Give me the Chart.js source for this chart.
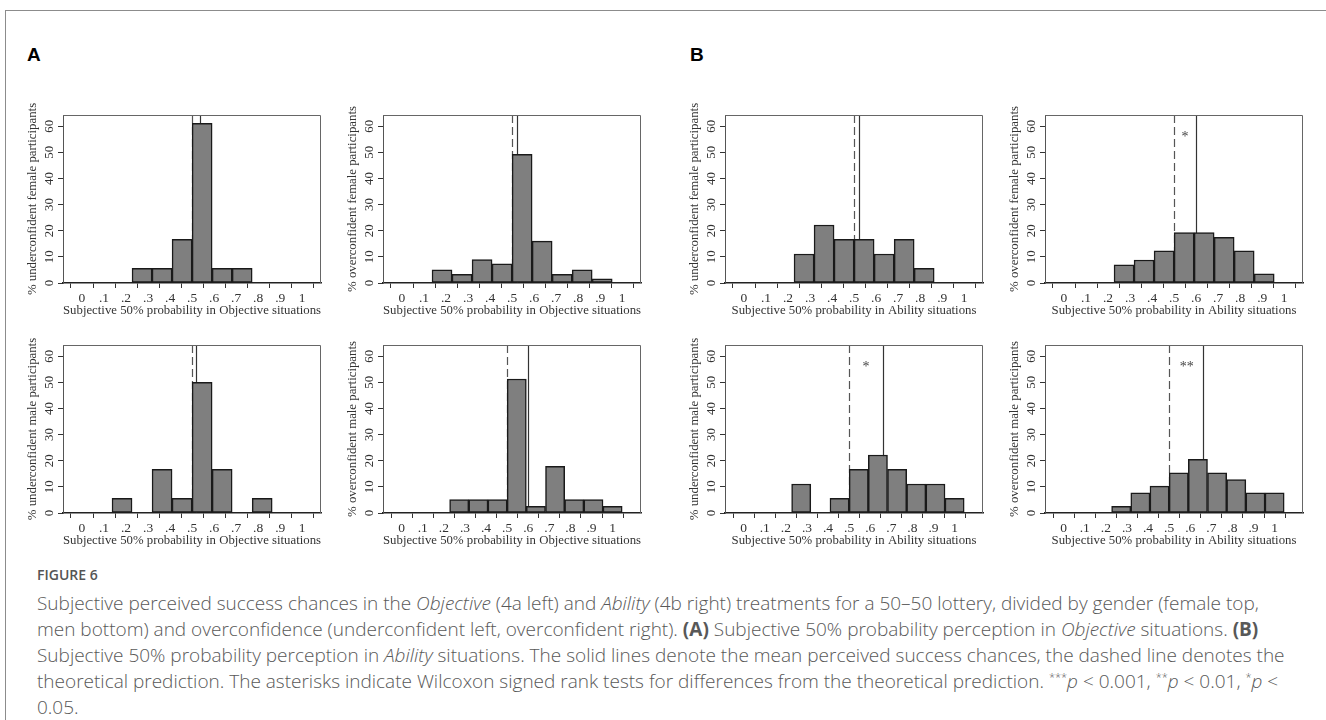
<!DOCTYPE html>
<html>
<head>
<meta charset="utf-8">
<script src="https://cdn.jsdelivr.net/npm/chart.js@4.4.1/dist/chart.umd.min.js"></script>
<style>
  body { margin: 0; background: #fff; width: 1326px; height: 720px; overflow: hidden; position: relative; }
  .frame { position: absolute; left: 5px; top: 10px; width: 1400px; height: 800px; border-left: 1px solid #8c8c8c; border-top: 1px solid #8c8c8c; }
  .tag { position: absolute; font: bold 19px "Liberation Sans", Arial, sans-serif; color: #000; }
  canvas { position: absolute; }
  .caption { position: absolute; left: 37px; top: 564px; font-family: "Open Sans", sans-serif; color: #585858; white-space: nowrap; }
  .caption .fig { font-size: 14px; font-weight: 600; color: #555; line-height: 22px; }
  .caption .txt { font-size: 19px; font-weight: 300; line-height: 26px; margin-top: 4px; }
  .caption .txt b { font-weight: 700; }
  .caption sup { font-size: 11px; vertical-align: 7px; line-height: 0; }
</style>
</head>
<body>
<div class="frame"></div>
<div class="tag" style="left:27px; top:44px;">A</div>
<div class="tag" style="left:690px; top:44px;">B</div>

<canvas id="c1" width="320" height="240" style="left:13px; top:90px;"></canvas>
<canvas id="c2" width="320" height="240" style="left:333px; top:90px;"></canvas>
<canvas id="c3" width="320" height="240" style="left:675px; top:90px;"></canvas>
<canvas id="c4" width="320" height="240" style="left:995px; top:90px;"></canvas>
<canvas id="c5" width="320" height="240" style="left:13px; top:320px;"></canvas>
<canvas id="c6" width="320" height="240" style="left:333px; top:320px;"></canvas>
<canvas id="c7" width="320" height="240" style="left:675px; top:320px;"></canvas>
<canvas id="c8" width="320" height="240" style="left:995px; top:320px;"></canvas>

<div class="caption">
  <div class="fig">FIGURE 6</div>
  <div class="txt">
    Subjective perceived success chances in the <i>Objective</i> (4a left) and <i>Ability</i> (4b right) treatments for a 50–50 lottery, divided by gender (female top,<br>
    men bottom) and overconfidence (underconfident left, overconfident right). <b>(A)</b> Subjective 50% probability perception in <i>Objective</i> situations. <b>(B)</b><br>
    Subjective 50% probability perception in <i>Ability</i> situations. The solid lines denote the mean perceived success chances, the dashed line denotes the<br>
    theoretical prediction. The asterisks indicate Wilcoxon signed rank tests for differences from the theoretical prediction. <sup>***</sup><i>p</i> &lt; 0.001, <sup>**</sup><i>p</i> &lt; 0.01, <sup>*</sup><i>p</i> &lt;<br>
    0.05.
  </div>
</div>

<script>
// histogram bin centres (bin width 1/11)
const BIN_CENTERS = [0.0909, 0.1818, 0.2727, 0.3636, 0.4545, 0.5455, 0.6364, 0.7273, 0.8182, 0.9091, 1.0];
const X_TICKS = [0, 0.1, 0.2, 0.3, 0.4, 0.5, 0.6, 0.7, 0.8, 0.9, 1];
const X_TICK_LABELS = ['0', '.1', '.2', '.3', '.4', '.5', '.6', '.7', '.8', '.9', '1'];
const Y_TICKS = [0, 10, 20, 30, 40, 50, 60];

// % of participants per bin
const OBJ_UNDER_FEMALE = [0, 0, 5.6, 5.6, 16.7, 61.1, 5.6, 5.6, 0, 0, 0];
const OBJ_OVER_FEMALE  = [0, 5.0, 3.3, 9.0, 7.3, 49.2, 16.0, 3.3, 5.0, 1.6, 0];
const ABL_UNDER_FEMALE = [0, 0, 11.1, 22.2, 16.7, 16.7, 11.1, 16.7, 5.6, 0, 0];
const ABL_OVER_FEMALE  = [0, 0, 7.0, 8.8, 12.3, 19.3, 19.3, 17.5, 12.3, 3.5, 0];
const OBJ_UNDER_MALE   = [0, 5.6, 0, 16.7, 5.6, 50.0, 16.7, 0, 5.6, 0, 0];
const OBJ_OVER_MALE    = [0, 0, 5.1, 5.1, 5.1, 51.3, 2.6, 17.9, 5.1, 5.1, 2.6];
const ABL_UNDER_MALE   = [0, 0, 11.1, 0, 5.6, 16.7, 22.2, 16.7, 11.1, 11.1, 5.6];
const ABL_OVER_MALE    = [0, 0, 2.6, 7.7, 10.3, 15.4, 20.5, 15.4, 12.8, 7.7, 7.7];

// mean (solid) and theoretical prediction (dashed)
const MEANS = [0.536, 0.52, 0.52, 0.60, 0.518, 0.60, 0.66, 0.66];
const THEORY = 0.5;
const STARS = ['', '', '', '*', '', '', '*', '**'];
const STAR_X = [null, null, null, 0.55, null, null, 0.58, 0.583];
const STAR_Y = 57;

const X_TITLE_OBJ = 'Subjective 50% probability in Objective situations';
const X_TITLE_ABL = 'Subjective 50% probability in Ability situations';

const SERIF = '"Liberation Serif", "Times New Roman", serif';
const INK = '#333';
const FS = 12.8;

const panels = [
  { id: 'c1', data: OBJ_UNDER_FEMALE, yTitle: '% underconfident female participants', xTitle: X_TITLE_OBJ, xMax: 1.032 },
  { id: 'c2', data: OBJ_OVER_FEMALE,  yTitle: '% overconfident female participants',  xTitle: X_TITLE_OBJ, xMax: 1.032 },
  { id: 'c3', data: ABL_UNDER_FEMALE, yTitle: '% underconfident female participants', xTitle: X_TITLE_ABL, xMax: 1.032 },
  { id: 'c4', data: ABL_OVER_FEMALE,  yTitle: '% overconfident female participants',  xTitle: X_TITLE_ABL, xMax: 1.032 },
  { id: 'c5', data: OBJ_UNDER_MALE,   yTitle: '% underconfident male participants',   xTitle: X_TITLE_OBJ, xMax: 1.032 },
  { id: 'c6', data: OBJ_OVER_MALE,    yTitle: '% overconfident male participants',    xTitle: X_TITLE_OBJ, xMax: 1.079 },
  { id: 'c7', data: ABL_UNDER_MALE,   yTitle: '% underconfident male participants',   xTitle: X_TITLE_ABL, xMax: 1.079 },
  { id: 'c8', data: ABL_OVER_MALE,    yTitle: '% overconfident male participants',    xTitle: X_TITLE_ABL, xMax: 1.079 }
];

// reference lines, box, rotated y labels, asterisks
const stataPlugin = {
  id: 'stata',
  beforeDatasetsDraw(chart, args, opts) {
    const { ctx, chartArea: a, scales: { x } } = chart;
    ctx.save();
    // theoretical prediction
    let px = Math.round(x.getPixelForValue(THEORY)) + 0.5;
    ctx.strokeStyle = '#555';
    ctx.lineWidth = 1.2;
    ctx.setLineDash([8, 4]);
    ctx.beginPath(); ctx.moveTo(px, a.top); ctx.lineTo(px, a.bottom); ctx.stroke();
    // mean
    px = Math.round(x.getPixelForValue(MEANS[opts.idx])) + 0.5;
    ctx.strokeStyle = '#333';
    ctx.setLineDash([]);
    ctx.beginPath(); ctx.moveTo(px, a.top); ctx.lineTo(px, a.bottom); ctx.stroke();
    ctx.restore();
  },
  afterDraw(chart, args, opts) {
    const { ctx, chartArea: a, scales: { x, y } } = chart;
    ctx.save();
    ctx.strokeStyle = '#666';
    ctx.lineWidth = 1;
    ctx.beginPath();
    ctx.moveTo(a.left, a.top + 0.5); ctx.lineTo(a.right - 0.5, a.top + 0.5); ctx.lineTo(a.right - 0.5, a.bottom);
    ctx.stroke();

    ctx.fillStyle = INK;
    ctx.font = FS + 'px ' + SERIF;
    ctx.textAlign = 'center';
    ctx.textBaseline = 'middle';
    y.ticks.forEach(t => {
      const py = y.getPixelForValue(t.value);
      ctx.save();
      ctx.translate(a.left - 13, py);
      ctx.rotate(-Math.PI / 2);
      ctx.fillText(String(t.value), 0, 0);
      ctx.restore();
    });

    const s = STARS[opts.idx];
    if (s) {
      ctx.font = '14px ' + SERIF;
      ctx.fillStyle = '#444';
      ctx.fillText(s, x.getPixelForValue(STAR_X[opts.idx]), y.getPixelForValue(STAR_Y) + 3);
    }
    ctx.restore();
  }
};

panels.forEach((p, i) => {
  new Chart(document.getElementById(p.id), {
    type: 'bar',
    data: {
      datasets: [{
        data: BIN_CENTERS.map((c, k) => ({ x: c, y: p.data[k] })),
        backgroundColor: '#7f7f7f',
        borderColor: '#1a1a1a',
        borderWidth: 1.5,
        borderSkipped: false,
        barPercentage: 1,
        categoryPercentage: 1
      }]
    },
    options: {
      responsive: false,
      animation: false,
      layout: { padding: { left: 0, top: 25, right: 12, bottom: 0 } },
      plugins: {
        legend: { display: false },
        tooltip: { enabled: false },
        stata: { idx: i }
      },
      scales: {
        x: {
          type: 'linear',
          min: -0.033,
          max: p.xMax,
          afterBuildTicks: s => { s.ticks = X_TICKS.map(v => ({ value: v })); },
          afterFit: s => { s.height = 47; },
          ticks: {
            color: INK,
            font: { family: SERIF, size: 13.5 },
            padding: 2,
            maxRotation: 0,
            autoSkip: false,
            callback: (v, k) => X_TICK_LABELS[k]
          },
          grid: { display: true, drawOnChartArea: false, drawTicks: true, tickLength: 5, color: INK },
          border: { display: true, color: '#222', width: 1.5 },
          title: {
            display: true,
            text: p.xTitle,
            color: INK,
            font: { family: SERIF, size: FS },
            padding: { top: 0, bottom: 12 }
          }
        },
        y: {
          min: 0,
          max: 64.3,
          afterBuildTicks: s => { s.ticks = Y_TICKS.map(v => ({ value: v })); },
          afterFit: s => { s.width = 50; },
          ticks: { display: false },
          grid: { display: true, drawOnChartArea: false, drawTicks: true, tickLength: 5, color: INK },
          border: { display: true, color: '#555', width: 1 },
          title: {
            display: true,
            text: p.yTitle,
            color: INK,
            font: { family: SERIF, size: FS },
            padding: { top: 12, bottom: 0 }
          }
        }
      }
    },
    plugins: [stataPlugin]
  });
});
</script>
</body>
</html>
